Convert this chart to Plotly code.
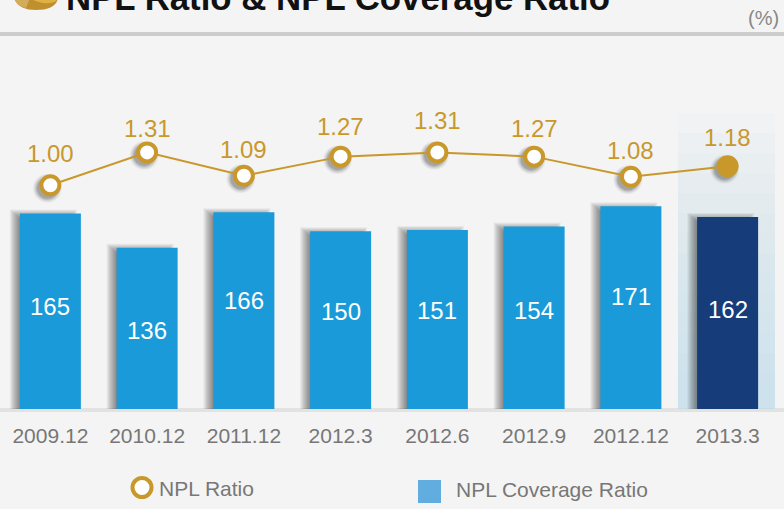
import plotly.graph_objects as go

# Chart data
periods = ["2009.12", "2010.12", "2011.12", "2012.3", "2012.6", "2012.9", "2012.12", "2013.3"]
npl_ratio = [1.00, 1.31, 1.09, 1.27, 1.31, 1.27, 1.08, 1.18]
coverage_ratio = [165, 136, 166, 150, 151, 154, 171, 162]

# Label nudges in pixels, upward
ratio_label_lift = [32, 24, 26, 30, 32, 28, 26, 29]
coverage_label_lift = [5, -2, 10, 9, 9, 7, 11, 4]

GOLD = "#C8982B"
BLUE = "#1A9AD8"
NAVY = "#163C7A"
GREY = "#777777"
BG = "#F4F4F4"

W, H = 784, 509
LEFT, RIGHT, TOP, BOTTOM = 2, 776, 100, 409
PLOT_H = BOTTOM - TOP
CAT_PX = (RIGHT - LEFT) / len(periods)
BAR_PX = 61
BAR_SCALE = 1.185   # pixels per coverage unit
LINE_SCALE = 106    # pixels per ratio unit
LINE_MID = 1.18875
LINE_MID_PX = 243.75
SHADOW_DX, SHADOW_DY = 3, 3   # marker shadow offset, left and down

LINE_RANGE = [LINE_MID - LINE_MID_PX / LINE_SCALE, LINE_MID + (PLOT_H - LINE_MID_PX) / LINE_SCALE]
CAT_RANGE = [-0.5, 7.5]


def px(x):
    return (x - LEFT) / (RIGHT - LEFT)


def py(y):
    return (BOTTOM - y) / PLOT_H


fig = go.Figure()

# Soft bar shadows, built up from stacked translucent bars
for k in range(11):
    left = -BAR_PX / 2 - 10 + k
    right = BAR_PX / 2 - 4 - k
    top = (4 - 0.9 * k) / BAR_SCALE
    under = (6 - 0.7 * k) / BAR_SCALE
    fig.add_bar(
        x=periods,
        y=[v + top + under for v in coverage_ratio],
        base=-under,
        width=(right - left) / CAT_PX,
        offset=left / CAT_PX,
        marker=dict(color="rgba(0,0,0,0.05)", line_width=0),
        hoverinfo="skip",
        showlegend=False,
        cliponaxis=False,
    )

fig.add_bar(
    x=periods,
    y=coverage_ratio,
    width=BAR_PX / CAT_PX,
    marker=dict(color=[BLUE] * 7 + [NAVY], line_width=0),
    name="NPL Coverage Ratio",
    showlegend=False,
)

# Marker shadows on their own shifted axes, so they sit under the line
for size, alpha in [(29, 0.04), (27, 0.05), (25, 0.07), (23, 0.09), (21, 0.12)]:
    fig.add_trace(go.Scatter(
        x=periods, y=npl_ratio, xaxis="x2", yaxis="y2", mode="markers",
        marker=dict(size=size, color=f"rgba(0,0,0,{alpha})", line_width=0),
        hoverinfo="skip", showlegend=False, cliponaxis=False,
    ))

fig.add_trace(go.Scatter(
    x=periods, y=npl_ratio, xaxis="x3", yaxis="y3", mode="lines+markers",
    line=dict(color=GOLD, width=2),
    marker=dict(
        size=[18] * 7 + [22],
        color=["#FFFFFF"] * 7 + [GOLD],
        opacity=1,
        line=dict(color=GOLD, width=[4] * 7 + [0]),
    ),
    name="NPL Ratio", showlegend=False, cliponaxis=False,
))

annotations = []
for i, (v, lift) in enumerate(zip(npl_ratio, ratio_label_lift)):
    annotations.append(dict(
        x=i, y=v, xref="x", yref="y3", text=f"{v:.2f}", showarrow=False,
        yanchor="middle", yshift=lift, font=dict(size=24, color=GOLD),
    ))
for i, (v, lift) in enumerate(zip(coverage_ratio, coverage_label_lift)):
    annotations.append(dict(
        x=i, y=v / 2, xref="x", yref="y", text=str(v), showarrow=False,
        yanchor="middle", yshift=lift, font=dict(size=24, color="#FFFFFF"),
    ))


def text_at(x, y, text, size, color, anchor="left", bold=False):
    return dict(
        x=px(x), y=py(y), xref="paper", yref="paper", text=f"<b>{text}</b>" if bold else text,
        showarrow=False, xanchor=anchor, yanchor="middle", font=dict(size=size, color=color),
    )


annotations += [
    text_at(64, -3, "NPL Ratio &amp; NPL Coverage Ratio", 34.8, "#111111", bold=True),
    text_at(781, 18, "(%)", 20, "#888888", anchor="right"),
    text_at(157, 488, "NPL Ratio", 21, GREY),
    text_at(454, 490, "NPL Coverage Ratio", 21, GREY),
]


def rect(x0, y0, x1, y1, color, layer="below"):
    return dict(
        type="rect", xref="paper", yref="paper", x0=px(x0), x1=px(x1), y0=py(y0), y1=py(y1),
        fillcolor=color, line_width=0, layer=layer,
    )


shapes = [
    rect(-2, 32, 786, 36, "#CCCCCC"),
    rect(-2, 408, 786, 412, "#E2E2E2"),
    rect(418, 480, 441, 503, "#62ADE0"),
    dict(type="circle", xref="paper", yref="paper", x0=px(132.5), x1=px(151.5), y0=py(478), y1=py(497),
         fillcolor="#FFFFFF", line=dict(color=GOLD, width=4)),
    # Coin emblem at the head of the title
    dict(type="path", xref="paper", yref="paper",
         path=f"M {px(14)} {py(-2)} Q {px(18)} {py(10)} {px(36)} {py(10)} "
              f"Q {px(56)} {py(10)} {px(58)} {py(-2)} Z",
         fillcolor="#C08F2E", line_width=0, layer="below"),
    dict(type="path", xref="paper", yref="paper",
         path=f"M {px(14)} {py(-2)} Q {px(17)} {py(6)} {px(26)} {py(8)} "
              f"L {px(30)} {py(-2)} Z",
         fillcolor="#D4AB5A", line_width=0, layer="below"),
    dict(type="path", xref="paper", yref="paper",
         path=f"M {px(30)} {py(-2)} L {px(58)} {py(-2)} Q {px(57)} {py(2)} {px(50)} {py(3)} "
              f"Q {px(38)} {py(4)} {px(30)} {py(-2)} Z",
         fillcolor="#DFB247", line_width=0, layer="below"),
]

# Highlight column behind the latest period, fading out upward
for i in range(14):
    y_top = 113 + i * 20
    shapes.append(dict(
        type="rect", xref="paper", yref="paper",
        x0=px(678), x1=px(775), y0=py(409), y1=py(y_top),
        fillcolor="rgba(190,220,228,0.055)", line_width=0, layer="below",
    ))

hidden_cat = dict(type="category", categoryorder="array", categoryarray=periods, visible=False)

fig.update_layout(
    width=W, height=H, autosize=False,
    margin=dict(l=LEFT, r=W - RIGHT, t=TOP, b=H - BOTTOM, pad=0),
    paper_bgcolor=BG, plot_bgcolor="rgba(0,0,0,0)",
    barmode="overlay", showlegend=False,
    font=dict(family="Liberation Sans, Arial, sans-serif", color=GREY),
    xaxis=dict(
        type="category", categoryorder="array", categoryarray=periods, range=CAT_RANGE,
        showgrid=False, zeroline=False, showline=False,
        ticks="outside", ticklen=8, tickcolor="rgba(0,0,0,0)",
        tickfont=dict(size=21, color=GREY),
    ),
    xaxis2=dict(hidden_cat, overlaying="x",
                range=[CAT_RANGE[0] + SHADOW_DX / CAT_PX, CAT_RANGE[1] + SHADOW_DX / CAT_PX]),
    xaxis3=dict(hidden_cat, overlaying="x", range=CAT_RANGE),
    yaxis=dict(range=[0, PLOT_H / BAR_SCALE], visible=False),
    yaxis2=dict(overlaying="y", visible=False,
                range=[LINE_RANGE[0] + SHADOW_DY / LINE_SCALE, LINE_RANGE[1] + SHADOW_DY / LINE_SCALE]),
    yaxis3=dict(overlaying="y", visible=False, range=LINE_RANGE),
    annotations=annotations,
    shapes=shapes,
)

fig.write_html("out.html", config=dict(displayModeBar=False))
